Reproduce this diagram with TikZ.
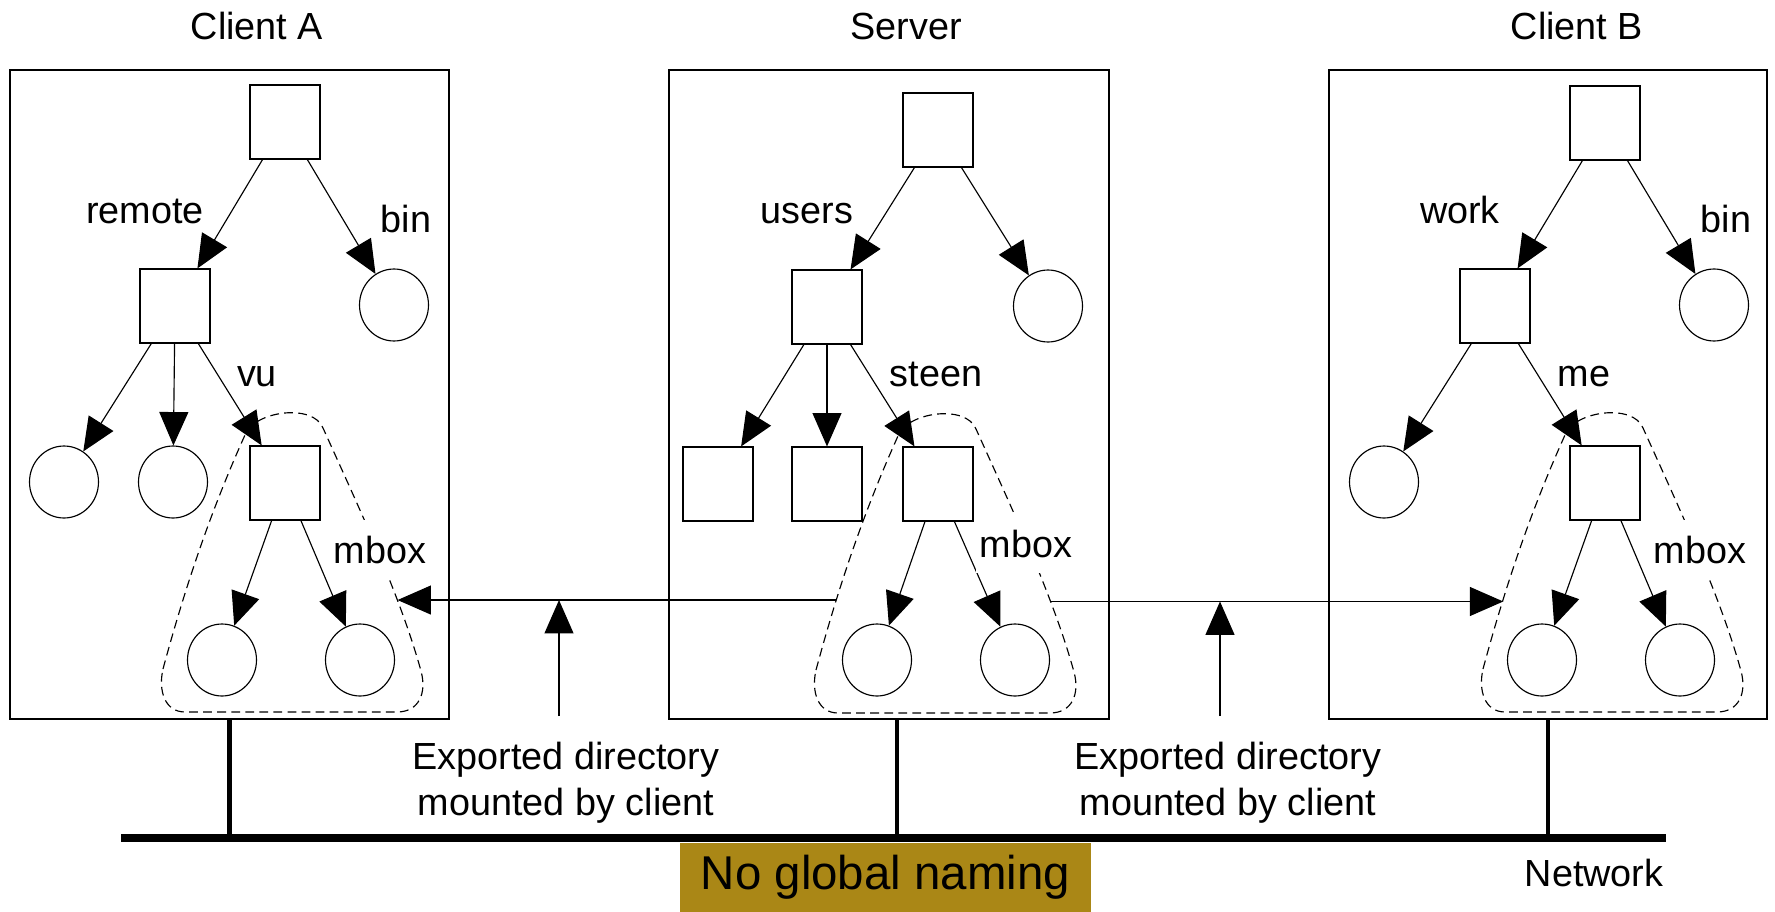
\documentclass[tikz,border=0pt]{standalone}
\usepackage{fontspec}
\setmainfont{Liberation Sans}
\usetikzlibrary{calc,shapes.geometric,arrows.meta}

\definecolor{namingbg}{RGB}{170,135,22}

% dashed area round a mounted subtree, #1 = top dir, #2 = prefix of its coordinates
\newcommand{\mountarea}[2]{%
  \draw[mountline] ($(#1)+(-122,186)$) coordinate (#2bl)
    .. controls ($(#1)+(-102,112)$) and ($(#1)+(-77,34)$) .. coordinate[pos = 0.31] (#2l) ($(#1)+(-40,-48)$)
    .. controls ($(#1)+(-31,-72)$) and ($(#1)+(28,-80)$) .. ($(#1)+(38,-55)$)
    .. controls ($(#1)+(75,27)$) and ($(#1)+(115,112)$) .. coordinate[pos = 0.7] (#2r) ($(#1)+(136,188)$)
    .. controls ($(#1)+(142,210)$) and ($(#1)+(134,229)$) .. ($(#1)+(112,229)$)
    -- ($(#1)+(-100,229)$)
    .. controls ($(#1)+(-120,229)$) and ($(#1)+(-127,208)$) .. (#2bl);
}

\begin{document}
\begin{tikzpicture}[x = 0.02cm, y = -0.02cm,
  dir/.style = {draw, line width = 0.65pt, minimum width = 1.4cm, minimum height = 1.48cm, inner sep = 0pt},
  file/.style = {draw, ellipse, line width = 0.65pt, minimum width = 1.38cm, minimum height = 1.44cm, inner sep = 0pt},
  host/.style = {draw, line width = 0.85pt, inner sep = 0pt, minimum height = 12.98cm},
  link/.style = {line width = 0.65pt, -{Triangle[length = 19pt, width = 16.5pt]}},
  lbl/.style = {anchor = base, inner sep = 1pt, font = \fontsize{21.5}{26}\selectfont},
  mboxlbl/.style = {lbl, fill = white, inner xsep = 2pt, inner ysep = 9pt},
  mountline/.style = {line width = 0.65pt, dash pattern = on 5pt off 3pt},
  net/.style = {line width = 4.8pt},
  stub/.style = {line width = 2.8pt},
  naming/.style = {fill = namingbg, minimum width = 8.22cm, minimum height = 1.38cm, inner sep = 0pt, font = \fontsize{27}{30}\selectfont}]
\useasboundingbox (0, 0) rectangle (1775, 912);
\fill[white] (0, 0) rectangle (1775, 912);
%\draw[very thin, color = gray, step = 50] (0, 0) grid (1775, 912);

% Client A
\node[host, minimum width = 8.78cm] (hostA) at (229.5, 394.5) {};
\node[lbl] (titleA) at (257, 40) {Client A};
\node[dir] (rootA) at (285, 122) {};
\node[dir] (remote) at (175, 306) {};
\node[file] (binA) at (394, 305) {};
\node[file] (fileA1) at (64, 482) {};
\node[file] (fileA2) at (173, 482) {};
\node[dir] (vu) at (285, 483) {};
\node[file] (mboxA1) at (222, 660) {};
\node[file] (mboxA2) at (360, 660) {};
\draw[link] (rootA) -- (remote);
\draw[link] (rootA) -- (binA);
\draw[link] (remote) -- (fileA1);
\draw[link] (remote) -- (fileA2);
\draw[link] (remote) -- (vu);
\draw[link] (vu) -- (mboxA1);
\draw[link] (vu) -- (mboxA2);
\mountarea{vu}{A}
\node[lbl] (lblremote) at (145, 224) {remote};
\node[lbl] (lblbinA) at (406, 233) {bin};
\node[lbl] (lblvu) at (257, 386) {vu};
\node[mboxlbl] (lblmboxA) at (380, 563) {mbox};

% Server
\node[host, minimum width = 8.8cm] (hostS) at (889, 394.5) {};
\node[lbl] (titleS) at (906, 40) {Server};
\node[dir] (rootS) at (938, 130) {};
\node[dir] (users) at (827, 307) {};
\node[file] (fileS) at (1048, 306) {};
\node[dir] (dirS1) at (718, 484) {};
\node[dir] (dirS2) at (827, 484) {};
\node[dir] (steen) at (938, 484) {};
\node[file] (mboxS1) at (877, 660) {};
\node[file] (mboxS2) at (1015, 660) {};
\draw[link] (rootS) -- (users);
\draw[link] (rootS) -- (fileS);
\draw[link] (users) -- (dirS1);
\draw[link] (users) -- (dirS2);
\draw[link] (users) -- (steen);
\draw[link] (steen) -- (mboxS1);
\draw[link] (steen) -- (mboxS2);
\mountarea{steen}{S}
\node[lbl] (lblusers) at (807, 224) {users};
\node[lbl] (lblsteen) at (936, 386) {steen};
\node[mboxlbl] (lblmboxS) at (1026, 557) {mbox};

% Client B
\node[host, minimum width = 8.76cm] (hostB) at (1548, 394.5) {};
\node[lbl] (titleB) at (1577, 40) {Client B};
\node[dir] (rootB) at (1605, 123) {};
\node[dir] (work) at (1495, 306) {};
\node[file] (binB) at (1714, 305) {};
\node[file] (fileB1) at (1384, 482) {};
\node[dir] (me) at (1605, 483) {};
\node[file] (mboxB1) at (1542, 660) {};
\node[file] (mboxB2) at (1680, 660) {};
\draw[link] (rootB) -- (work);
\draw[link] (rootB) -- (binB);
\draw[link] (work) -- (fileB1);
\draw[link] (work) -- (me);
\draw[link] (me) -- (mboxB1);
\draw[link] (me) -- (mboxB2);
\mountarea{me}{B}
\node[lbl] (lblwork) at (1460, 224) {work};
\node[lbl] (lblbinB) at (1726, 233) {bin};
\node[lbl] (lblme) at (1584, 386) {me};
\node[mboxlbl] (lblmboxB) at (1700, 563) {mbox};

% mounts
\draw[link] (Sl) -- (Sl -| Ar);
\draw[link] (Sr) -- (Sr -| Bl);
\coordinate (expA) at (559, 716);
\coordinate (expB) at (1220, 716);
\draw[link] (expA) -- (expA |- Sl);
\draw[link] (expB) -- (expB |- Sr);
\node[lbl, anchor = center, align = center] (txtA) at (566, 783) {Exported directory\\mounted by client};
\node[lbl, anchor = center, align = center] (txtB) at (1228, 783) {Exported directory\\mounted by client};

% network
\coordinate (netL) at (121, 838);
\coordinate (netR) at (1666, 838);
\draw[stub] (hostA.south) -- (hostA.south |- netL);
\draw[stub] ([xshift = 0.16cm] hostS.south) -- ([xshift = 0.16cm] hostS.south |- netL);
\draw[stub] (hostB.south) -- (hostB.south |- netL);
\draw[net] (netL) -- (netR);
\node[lbl] (network) at (1594, 886) {Network};
\node[naming] (noglobal) at (885.5, 877.5) {No global naming};
\end{tikzpicture}
\end{document}
